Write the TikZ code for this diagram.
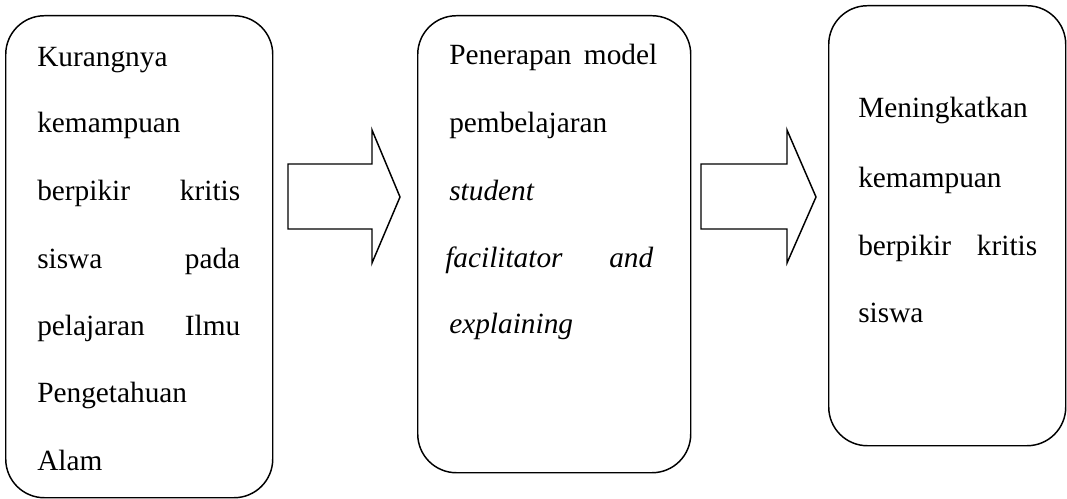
\documentclass[tikz,border=0pt]{standalone}
\usepackage{fontspec}
\setmainfont{Liberation Serif}
\begin{document}
\begin{tikzpicture}[x=0.75pt,y=-0.75pt,
  box/.style={draw,line width=1.1pt,rounded corners=29pt,fill=white},
  blockarrow/.style={draw,line width=1.1pt,fill=white,line join=miter},
  txt/.style={inner sep=0pt,font=\fontsize{22}{26}\selectfont},
  jline/.style={txt,text width=#1*0.75pt,align=left}]
\useasboundingbox (0,0) rectangle (1067,499);
\fill[white] (0,0) rectangle (1067,499);
% boxes
\node[box,minimum width=267*0.75pt,minimum height=482*0.75pt,anchor=north west] (b1) at (5,15) {};
\node[box,minimum width=273*0.75pt,minimum height=457*0.75pt,anchor=north west] (b2) at (417,15) {};
\node[box,minimum width=237*0.75pt,minimum height=440*0.75pt,anchor=north west] (b3) at (828,5) {};
% block arrows
\draw[blockarrow] (288,164) -- (372,164) -- (372,130) -- (400,197) -- (372,263) -- (372,229) -- (288,229) -- cycle;
\draw[blockarrow] (701,164) -- (787,164) -- (787,130) -- (816,197) -- (787,263) -- (787,229) -- (701,229) -- cycle;
% box 1 text
\node[txt,anchor=base west] (t11) at (37,67) {Kurangnya};
\node[txt,anchor=base west] (t12) at (37,133) {kemampuan};
\node[jline=203,anchor=base west] (t13) at (37,200) {berpikir\hfill kritis};
\node[jline=203,anchor=base west] (t14) at (37,268) {siswa\hfill pada};
\node[jline=203,anchor=base west] (t15) at (37,335) {pelajaran\hfill Ilmu};
\node[txt,anchor=base west] (t16) at (37,402) {Pengetahuan};
\node[txt,anchor=base west] (t17) at (37,470) {Alam};
% box 2 text
\node[jline=208,anchor=base west] (t21) at (449,65) {Penerapan\hfill model};
\node[txt,anchor=base west] (t22) at (449,133) {pembelajaran};
\node[txt,anchor=base west] (t23) at (449,200) {\itshape student};
\node[jline=208,anchor=base west] (t24) at (445,267) {\itshape facilitator\hfill and};
\node[txt,anchor=base west] (t25) at (449,333) {\itshape explaining};
% box 3 text
\node[txt,anchor=base west] (t31) at (858,118) {Meningkatkan};
\node[txt,anchor=base west] (t32) at (858,187) {kemampuan};
\node[jline=179,anchor=base west] (t33) at (858,255) {berpikir\hfill kritis};
\node[txt,anchor=base west] (t34) at (858,322) {siswa};
\end{tikzpicture}
\end{document}
